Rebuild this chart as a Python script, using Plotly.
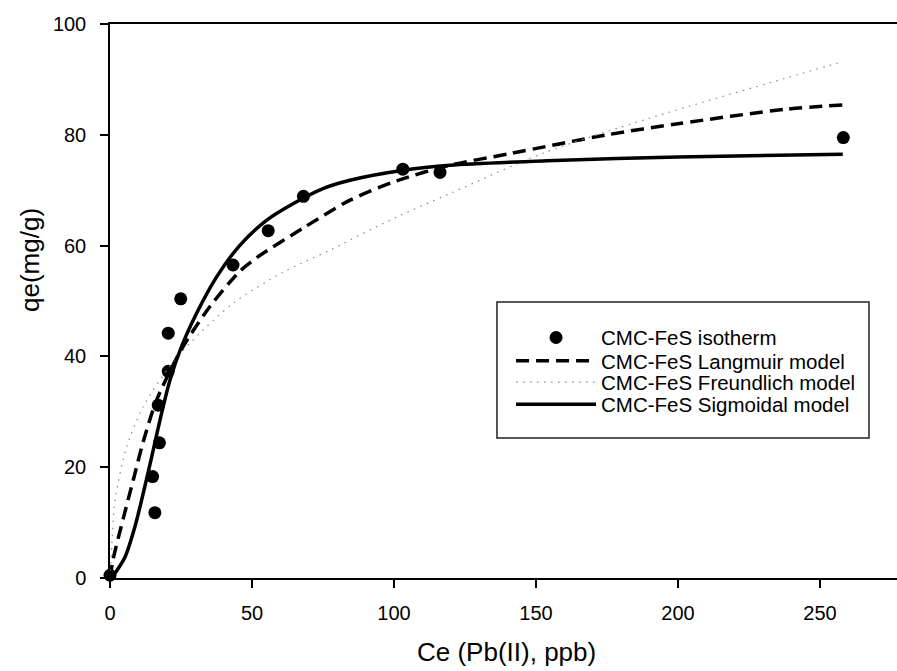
import plotly.graph_objects as go

# Measured isotherm data
ce_data = [0, 15.0, 15.8, 17.0, 17.4, 20.5, 20.5, 24.9, 43.3, 55.7, 68.1, 103.1, 116.2, 258.2]
qe_data = [0.5, 18.3, 11.8, 31.2, 24.4, 44.2, 37.3, 50.4, 56.5, 62.7, 68.9, 73.8, 73.2, 79.5]

# Langmuir model curve
ce_lang = [0, 1.2, 4.7, 8.2, 11.7, 16.4, 25.2, 35.2, 45.8, 51.6, 68.1, 84.5, 101, 119.7, 140.8, 175, 200, 237.7, 258]
qe_lang = [0, 3.6, 10.8, 17.7, 24.6, 32.1, 41.3, 49.0, 55.4, 57.8, 63.2, 68.2, 71.7, 74.5, 76.6, 80.0, 82.0, 84.6, 85.4]

# Freundlich model curve
ce_freu = [0, 0.6, 1.8, 5.9, 11.7, 20, 29.3, 43.4, 61, 77.5, 98.6, 119.7, 152.6, 190, 237.7, 258]
qe_freu = [0, 5.6, 14.1, 23.7, 30.9, 37.5, 43.0, 49.6, 55.2, 59.2, 64.6, 69.4, 76.7, 83.0, 90.2, 93.2]

# Sigmoidal model curve
ce_sig = [0, 1.2, 3, 5.3, 8.8, 11.7, 14.7, 17.6, 21.1, 25.2, 30.5, 37.6, 45.8, 55.2, 64.6, 75, 84.5, 103.3, 119.7, 153.8, 200, 258]
qe_sig = [0, 0.5, 1.8, 3.8, 9.3, 15.3, 21.9, 28.5, 35.7, 41.8, 47.8, 54.4, 60.1, 64.6, 67.6, 70.3, 71.8, 73.6, 74.5, 75.3, 76.0, 76.5]

x_ticks = [0, 50, 100, 150, 200, 250]
y_ticks = [0, 20, 40, 60, 80, 100]

FONT = "Liberation Sans, Arial, sans-serif"
LEG_FONT = dict(family=FONT, size=20.5, color="black")

fig = go.Figure()
fig.add_trace(go.Scatter(x=ce_data, y=qe_data, mode="markers", name="CMC-FeS isotherm",
                         marker=dict(color="black", size=13, symbol="circle"), cliponaxis=False,
                         legend="legend"))
fig.add_trace(go.Scatter(x=ce_lang, y=qe_lang, mode="lines", name="CMC-FeS Langmuir model",
                         line=dict(color="black", width=3.5, dash="13px,7px", shape="spline", smoothing=0.8),
                         cliponaxis=False, legend="legend2"))
fig.add_trace(go.Scatter(x=ce_freu, y=qe_freu, mode="lines", name="CMC-FeS Freundlich model",
                         line=dict(color="#8a8a8a", width=1.2, dash="1.5px,5.5px", shape="spline", smoothing=0.8),
                         cliponaxis=False, legend="legend3"))
fig.add_trace(go.Scatter(x=ce_sig, y=qe_sig, mode="lines", name="CMC-FeS Sigmoidal model",
                         line=dict(color="black", width=3.5, shape="spline", smoothing=0.8),
                         cliponaxis=False, legend="legend4"))

leg_x = 0.5096
leg_common = dict(x=leg_x, xanchor="left", yanchor="middle", bgcolor="rgba(0,0,0,0)",
                  borderwidth=0, itemwidth=80, font=LEG_FONT)

fig.update_layout(
    width=897, height=671,
    margin=dict(l=110, r=0, t=24, b=93),
    paper_bgcolor="white", plot_bgcolor="white",
    font=dict(family=FONT, color="black", size=20),
    showlegend=True,
    legend=dict(y=0.4338, **leg_common),
    legend2=dict(y=0.3917, **leg_common),
    legend3=dict(y=0.3532, **leg_common),
    legend4=dict(y=0.3135, **leg_common),
    shapes=[dict(type="rect", xref="paper", yref="paper",
                 x0=0.4917, x1=0.9644, y0=0.2527, y1=0.4982,
                 line=dict(color="#222", width=1.5), fillcolor="rgba(0,0,0,0)")],
    annotations=[
        dict(text="Ce (Pb(II), ppb)", xref="paper", yref="paper", x=0.5044, y=-0.1336,
             xanchor="center", yanchor="middle", showarrow=False,
             font=dict(family=FONT, size=26, color="black")),
        dict(text="qe(mg/g)", xref="paper", yref="paper", x=-0.1017, y=0.574,
             xanchor="center", yanchor="middle", showarrow=False, textangle=-90,
             font=dict(family=FONT, size=26, color="black")),
    ],
)

fig.update_xaxes(range=[0, 277.1], tickvals=x_ticks, ticks="outside", ticklen=8, tickwidth=1.5,
                 tickcolor="black", showline=True, linecolor="black", linewidth=1.5, mirror=True,
                 showgrid=False, zeroline=False, tickfont=dict(size=20), ticklabelstandoff=8)
fig.update_yaxes(range=[0, 100], tickvals=y_ticks, ticks="outside", ticklen=8, tickwidth=1.5,
                 tickcolor="black", showline=True, linecolor="black", linewidth=1.5,
                 showgrid=False, zeroline=False, tickfont=dict(size=20), ticklabelstandoff=10)

fig.write_html("out.html")
